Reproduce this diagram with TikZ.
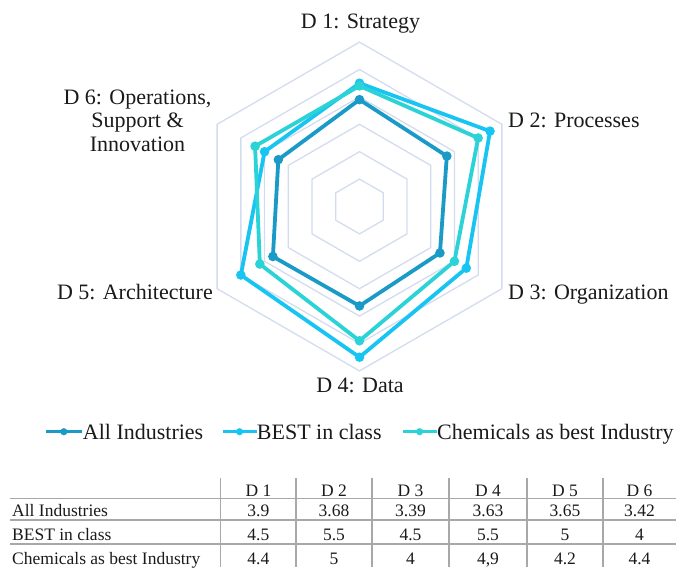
\documentclass[tikz,border=0pt]{standalone}
\usepackage{fontspec}
\setmainfont{Liberation Serif}
\usetikzlibrary{calc}
\definecolor{gridc}{HTML}{D3DCEF}
\definecolor{allc}{HTML}{1A9BC7}
\definecolor{bestc}{HTML}{18C5F2}
\definecolor{chemc}{HTML}{2BD3D6}
\definecolor{tabline}{HTML}{A8A8A8}
\definecolor{txt}{HTML}{1A1A1A}
\begin{document}
\begin{tikzpicture}[x=1pt,y=-1pt,
  gridline/.style={draw=gridc, line width=1.3pt},
  series/.style={line width=3.8pt, line join=round},
  lab/.style={inner sep=0pt, text=txt, font=\fontsize{22}{26}\selectfont},
  tab/.style={inner sep=0pt, text=txt, font=\fontsize{17.5}{20}\selectfont},
  tl/.style={draw=tabline, line width=1.2pt},
  legline/.style={line width=3.2pt}]
\useasboundingbox (0,0) rectangle (676,567);
\def\cx{359.5}\def\cy{206.5}\def\u{27.4}
% grid
\foreach \r in {1,...,6}{
  \draw[gridline] ({\cx},{\cy-\r*\u})
    \foreach \a in {30,-30,-90,-150,150}{ -- ({\cx+\r*\u*cos(\a)},{\cy-\r*\u*sin(\a)}) } -- cycle;
}
\newcommand{\radpt}[3]{\coordinate (#1) at ({\cx+#2*\u*cos(#3)},{\cy-#2*\u*sin(#3)});}
% All Industries
\radpt{a1}{3.9}{90}\radpt{a2}{3.68}{30}\radpt{a3}{3.39}{-30}
\radpt{a4}{3.63}{-90}\radpt{a5}{3.65}{-150}\radpt{a6}{3.42}{150}
% BEST
\radpt{b1}{4.5}{90}\radpt{b2}{5.5}{30}\radpt{b3}{4.5}{-30}
\radpt{b4}{5.5}{-90}\radpt{b5}{5}{-150}\radpt{b6}{4}{150}
% Chemicals
\radpt{c1}{4.4}{90}\radpt{c2}{5}{30}\radpt{c3}{4}{-30}
\radpt{c4}{4.9}{-90}\radpt{c5}{4.2}{-150}\radpt{c6}{4.4}{150}
\draw[series, allc] (a1) -- (a2) -- (a3) -- (a4) -- (a5) -- (a6) -- cycle;
\foreach \p in {a1,a2,a3,a4,a5,a6} \fill[allc] (\p) circle (4.8pt);
\draw[series, bestc] (b1) -- (b2) -- (b3) -- (b4) -- (b5) -- (b6) -- cycle;
\foreach \p in {b1,b2,b3,b4,b5,b6} \fill[bestc] (\p) circle (4.8pt);
\draw[series, chemc] (c1) -- (c2) -- (c3) -- (c4) -- (c5) -- (c6) -- cycle;
\foreach \p in {c1,c2,c3,c4,c5,c6} \fill[chemc] (\p) circle (4.8pt);
% axis labels
\node[lab, anchor=base] (d1) at (360.5,28.5) {D 1: Strategy};
\node[lab, anchor=base west] (d2) at (508,127) {D 2: Processes};
\node[lab, anchor=base west] (d3) at (508,299) {D 3: Organization};
\node[lab, anchor=base] (d4) at (360,392) {D 4: Data};
\node[lab, anchor=base east] (d5) at (213,299) {D 5: Architecture};
\node[lab, anchor=base] (d6a) at (137.5,104) {D 6: Operations,};
\node[lab, anchor=base] (d6b) at (137.5,127.5) {Support \&};
\node[lab, anchor=base] (d6c) at (137.5,151) {Innovation};
% legend
\coordinate (l1a) at (46,431.7); \coordinate (l1b) at (81.7,431.7);
\coordinate (l2a) at (222.7,431.7); \coordinate (l2b) at (256.5,431.7);
\coordinate (l3a) at (402.7,431.7); \coordinate (l3b) at (436.5,431.7);
\draw[legline, allc] (l1a) -- (l1b); \fill[allc] ($(l1a)!0.5!(l1b)$) circle (3.6pt);
\draw[legline, bestc] (l2a) -- (l2b); \fill[bestc] ($(l2a)!0.5!(l2b)$) circle (3.6pt);
\draw[legline, chemc] (l3a) -- (l3b); \fill[chemc] ($(l3a)!0.5!(l3b)$) circle (3.6pt);
\node[lab, anchor=base west] (lg1) at (82.7,439) {All Industries};
\node[lab, anchor=base west] (lg2) at (256.7,439) {BEST in class};
\node[lab, anchor=base west] (lg3) at (437,439) {Chemicals as best Industry};
% table lines
\foreach \yy/\nm in {498.3/h1,520/h2,544/h3}{
  \coordinate (\nm L) at (10,\yy); \coordinate (\nm R) at (676,\yy);
  \draw[tl] (\nm L) -- (\nm R);
}
\foreach \xx/\nm in {220.7/v1,296/v2,372/v3,449/v4,527/v5,603/v6}{
  \coordinate (\nm T) at (\xx,478); \coordinate (\nm B) at (\xx,567);
  \draw[tl] (\nm T) -- (\nm B);
}
% table text
\node[tab, anchor=base west] (r1) at (12,516) {All Industries};
\node[tab, anchor=base west] (r2) at (12,540) {BEST in class};
\node[tab, anchor=base west] (r3) at (12,564) {Chemicals as best Industry};
\foreach \xx [count=\i] in {258.4,334,410.5,488,565,639.5}{
  \node[tab, anchor=base] (hd\i) at (\xx,496) {D \i};
}
\foreach \xx/\v [count=\i] in {258.4/3.9,334/3.68,410.5/3.39,488/3.63,565/3.65,639.5/3.42}{
  \node[tab, anchor=base] (ra\i) at (\xx,516) {\v};
}
\foreach \xx/\v [count=\i] in {258.4/4.5,334/5.5,410.5/4.5,488/5.5,565/5,639.5/4}{
  \node[tab, anchor=base] (rb\i) at (\xx,540) {\v};
}
\foreach \xx/\v [count=\i] in {258.4/4.4,334/5,410.5/4,488/{4,9},565/4.2,639.5/4.4}{
  \node[tab, anchor=base] (rc\i) at (\xx,564) {\v};
}
\end{tikzpicture}
\end{document}
